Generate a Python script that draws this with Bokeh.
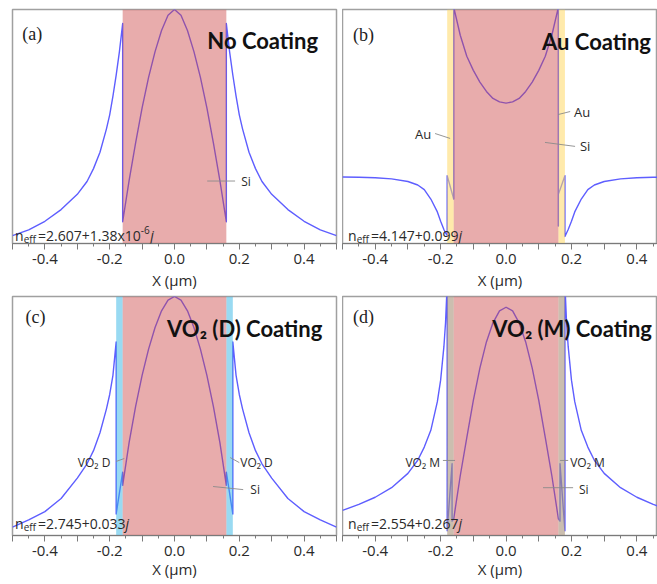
from bokeh.plotting import figure
from bokeh.models import Range1d, FixedTicker, CustomJSTickFormatter, Label
from bokeh.layouts import column, row
from bokeh.embed import file_html
from bokeh.resources import INLINE

# ---------------- data ----------------
x_ticks = [-0.5, -0.4, -0.3, -0.2, -0.1, 0.0, 0.1, 0.2, 0.3, 0.4, 0.5]
x_minor = [-0.45, -0.35, -0.25, -0.15, -0.05, 0.05, 0.15, 0.25, 0.35, 0.45]
si_core = [-0.16, 0.16]
coat_left = [-0.18, -0.16]
coat_right = [0.16, 0.18]

# (a) No coating
xa = [-0.50, -0.45, -0.40, -0.35, -0.30, -0.27, -0.25, -0.23, -0.21, -0.20, -0.19, -0.18, -0.17, -0.16,
      -0.16, -0.14, -0.12, -0.10, -0.08, -0.06, -0.04, -0.02, 0.00, 0.02, 0.04, 0.06, 0.08, 0.10, 0.12, 0.14, 0.16,
      0.16, 0.17, 0.18, 0.19, 0.20, 0.21, 0.23, 0.25, 0.27, 0.30, 0.35, 0.40, 0.45, 0.50]
ya = [0.034, 0.058, 0.095, 0.145, 0.21, 0.265, 0.32, 0.39, 0.49, 0.55, 0.63, 0.72, 0.82, 0.94,
      0.093, 0.27, 0.43, 0.58, 0.71, 0.82, 0.91, 0.975, 1.0, 0.975, 0.91, 0.82, 0.71, 0.58, 0.43, 0.27, 0.093,
      0.94, 0.82, 0.72, 0.63, 0.55, 0.49, 0.39, 0.32, 0.265, 0.21, 0.145, 0.095, 0.058, 0.034]

# (b) Au coating
xb = [-0.50, -0.45, -0.40, -0.35, -0.30, -0.27, -0.25, -0.23, -0.21, -0.20, -0.19, -0.185, -0.18,
      -0.18, -0.16,
      -0.16, -0.14, -0.12, -0.10, -0.08, -0.06, -0.04, -0.02, 0.00, 0.02, 0.04, 0.06, 0.08, 0.10, 0.12, 0.14, 0.16,
      0.16, 0.16, 0.18, 0.18,
      0.185, 0.19, 0.20, 0.21, 0.23, 0.25, 0.27, 0.30, 0.35, 0.40, 0.45, 0.50]
yb = [0.284, 0.283, 0.281, 0.276, 0.265, 0.25, 0.23, 0.19, 0.135, 0.095, 0.06, 0.045, 0.035,
      0.29, 0.19,
      1.01, 0.89, 0.80, 0.74, 0.69, 0.65, 0.62, 0.605, 0.60, 0.605, 0.62, 0.65, 0.69, 0.74, 0.80, 0.89, 1.01,
      0.075, 0.21, 0.29, 0.03,
      0.045, 0.06, 0.095, 0.135, 0.19, 0.23, 0.25, 0.265, 0.276, 0.281, 0.283, 0.284]

# (c) VO2 (D) coating
xc = [-0.50, -0.45, -0.40, -0.35, -0.30, -0.27, -0.25, -0.23, -0.21, -0.20, -0.19, -0.18,
      -0.18, -0.16,
      -0.16, -0.14, -0.12, -0.10, -0.08, -0.06, -0.04, -0.02, 0.00, 0.02, 0.04, 0.06, 0.08, 0.10, 0.12, 0.14, 0.16,
      0.16, 0.18,
      0.18, 0.19, 0.20, 0.21, 0.23, 0.25, 0.27, 0.30, 0.35, 0.40, 0.45, 0.50]
yc = [0.035, 0.065, 0.10, 0.155, 0.24, 0.30, 0.355, 0.43, 0.53, 0.59, 0.67, 0.81,
      0.09, 0.265,
      0.21, 0.39, 0.54, 0.67, 0.78, 0.87, 0.94, 0.985, 1.0, 0.985, 0.94, 0.87, 0.78, 0.67, 0.54, 0.39, 0.21,
      0.265, 0.09,
      0.81, 0.67, 0.59, 0.53, 0.43, 0.355, 0.30, 0.24, 0.155, 0.10, 0.065, 0.035]

# (d) VO2 (M) coating
xd = [-0.50, -0.45, -0.40, -0.35, -0.30, -0.27, -0.25, -0.23, -0.21, -0.20, -0.19, -0.185, -0.18,
      -0.18, -0.165, -0.165,
      -0.16, -0.14, -0.12, -0.10, -0.08, -0.06, -0.04, -0.02, 0.00, 0.02, 0.04, 0.06, 0.08, 0.10, 0.12, 0.14, 0.16,
      0.165, 0.165, 0.18,
      0.18, 0.185, 0.19, 0.20, 0.21, 0.23, 0.25, 0.27, 0.30, 0.35, 0.40, 0.45, 0.50]
yd = [0.105, 0.13, 0.16, 0.20, 0.26, 0.315, 0.37, 0.44, 0.56, 0.65, 0.79, 0.89, 1.05,
      0.02, 0.30, 0.06,
      0.07, 0.25, 0.41, 0.565, 0.70, 0.81, 0.89, 0.94, 0.955, 0.94, 0.89, 0.81, 0.70, 0.565, 0.41, 0.25, 0.07,
      0.06, 0.30, 0.02,
      1.05, 0.89, 0.79, 0.65, 0.56, 0.44, 0.37, 0.315, 0.26, 0.20, 0.16, 0.13, 0.105]

titles = ["No Coating", "Au Coating", "VO\u2082 (D) Coating", "VO\u2082 (M) Coating"]
tags = ["(a)", "(b)", "(c)", "(d)"]
neff_main = ["=2.607+1.38x10", "=4.147+0.099", "=2.745+0.033", "=2.554+0.267"]
neff_sup = ["-6", None, None, None]

# ---------------- styles ----------------
Y_LO, Y_HI = 0.0, 1.0
LINE = "#5e5eff"
SI_FILL, SI_ALPHA = "#cc4747", 0.45
COATS = {"Au": ("#ffd966", 0.55), "VO2D": ("#33b5e5", 0.5), "VO2M": ("#a8937a", 0.6)}
FONT = "Open Sans"
TXT = "#2a2a2a"
LEADER = "#8a8a8a"

FMT = """
const v = Math.round(tick * 10);
if (v % 2 !== 0 || Math.abs(v) > 4) { return ""; }
return (v / 10).toFixed(1);
"""


def base_fig(width, height, x_end, mb_left, mb_right, mb_top, mb_bottom, label_standoff):
    p = figure(width=width, height=height, x_range=Range1d(-0.5, x_end), y_range=Range1d(Y_LO, Y_HI),
               output_backend="svg", toolbar_location=None, y_axis_location=None,
               min_border_left=mb_left, min_border_right=mb_right,
               min_border_top=mb_top, min_border_bottom=mb_bottom)
    p.grid.visible = False
    p.outline_line_color = "#a0a0a0"
    p.outline_line_width = 1.5
    p.background_fill_color = "white"
    p.border_fill_color = "white"
    ax = p.xaxis[0]
    ax.ticker = FixedTicker(ticks=x_ticks, minor_ticks=x_minor)
    ax.formatter = CustomJSTickFormatter(code=FMT)
    ax.axis_line_color = "#7a7a7a"
    ax.axis_line_width = 1.2
    ax.major_tick_line_color = "#7a7a7a"
    ax.minor_tick_line_color = "#7a7a7a"
    ax.major_tick_in = 0
    ax.major_tick_out = 6
    ax.minor_tick_in = 0
    ax.minor_tick_out = 3
    ax.major_label_text_font = FONT
    ax.major_label_text_font_size = "15px"
    ax.major_label_text_color = TXT
    ax.major_label_standoff = 4
    ax.axis_label = "X (\u03bcm)"
    ax.axis_label_text_font = FONT
    ax.axis_label_text_font_size = "15px"
    ax.axis_label_text_font_style = "normal"
    ax.axis_label_text_color = TXT
    ax.axis_label_standoff = label_standoff
    return p


def lab(p, x, y, text, size="12px", align="left", font=FONT, style="normal", color=TXT,
        xo=0, yo=0, baseline="middle"):
    p.add_layout(Label(x=x, y=y, text=text, text_font=font, text_font_size=size,
                       text_font_style=style, text_color=color, text_align=align,
                       text_baseline=baseline, x_offset=xo, y_offset=yo))


def panel(p, xs, ys, coat, i, neff_x, neff_y, title_x, title_y, tag_x, tag_y):
    p.line(xs, ys, line_color=LINE, line_width=1.4, line_join="round")
    if coat is not None:
        c, a = COATS[coat]
        p.quad(left=[coat_left[0], coat_right[0]], right=[coat_left[1], coat_right[1]],
               bottom=[Y_LO, Y_LO], top=[Y_HI, Y_HI], fill_color=c, fill_alpha=a, line_color=None)
    p.quad(left=[si_core[0]], right=[si_core[1]], bottom=[Y_LO], top=[Y_HI],
           fill_color=SI_FILL, fill_alpha=SI_ALPHA, line_color=None)
    # n_eff
    lab(p, neff_x, neff_y, "n", size="14px", baseline="alphabetic")
    lab(p, neff_x, neff_y, "eff", size="10px", baseline="alphabetic", xo=8.6, yo=-3)
    lab(p, neff_x, neff_y, neff_main[i], size="14px", baseline="alphabetic", xo=23)
    jx = 23 + (102.7 if neff_sup[i] else 87.5)
    if neff_sup[i]:
        lab(p, neff_x, neff_y, neff_sup[i], size="10px", baseline="alphabetic", xo=jx, yo=6)
        jx += 9.5
    lab(p, neff_x, neff_y, "j", size="14px", style="italic", baseline="alphabetic", xo=jx)
    # title and tag
    lab(p, title_x, title_y, titles[i], size="22px", align="right", font="Lato", style="bold",
        color="#111111", baseline="alphabetic")
    lab(p, tag_x, tag_y, tags[i], size="18px", font="Liberation Serif", color="#222222",
        baseline="alphabetic")


def leaders(p, segs):
    p.segment(x0=[s[0] for s in segs], y0=[s[1] for s in segs],
              x1=[s[2] for s in segs], y1=[s[3] for s in segs],
              line_color=LEADER, line_width=0.9)


# ---------------- panels ----------------
pa = base_fig(342, 292, 0.5, 12, 6, 9, 47, 3)
panel(pa, xa, ya, None, 0, -0.492, 0.034, 0.443, 0.869, -0.47, 0.894)
leaders(pa, [(0.101, 0.267, 0.187, 0.267)])
lab(pa, 0.206, 0.263, "Si")

pb = base_fig(315, 292, 0.463, 0, 0, 9, 47, 3)
panel(pb, xb, yb, "Au", 1, -0.483, 0.034, 0.443, 0.862, -0.468, 0.89)
leaders(pb, [(-0.217, 0.47, -0.171, 0.449), (0.159, 0.551, 0.196, 0.564), (0.119, 0.432, 0.211, 0.415)])
lab(pb, -0.229, 0.466, "Au", align="right", size="13px")
lab(pb, 0.208, 0.564, "Au", size="13px")
lab(pb, 0.226, 0.415, "Si", size="13px")

pc = base_fig(342, 292, 0.5, 12, 6, 4, 49, 0)
panel(pc, xc, yc, "VO2D", 2, -0.492, 0.05, 0.456, 0.866, -0.46, 0.916)
leaders(pc, [(-0.18, 0.31, -0.155, 0.322), (0.172, 0.326, 0.20, 0.305), (0.119, 0.205, 0.212, 0.192)])
lab(pc, -0.198, 0.305, "VO\u2082 D", align="right")
lab(pc, 0.203, 0.305, "VO\u2082 D")
lab(pc, 0.234, 0.192, "Si")

pd = base_fig(315, 292, 0.463, 0, 0, 4, 49, 0)
panel(pd, xd, yd, "VO2M", 3, -0.483, 0.05, 0.446, 0.866, -0.468, 0.916)
leaders(pd, [(-0.193, 0.314, -0.156, 0.314), (0.165, 0.314, 0.19, 0.314), (0.113, 0.20, 0.205, 0.20)])
lab(pd, -0.202, 0.305, "VO\u2082 M", align="right")
lab(pd, 0.196, 0.305, "VO\u2082 M")
lab(pd, 0.223, 0.192, "Si")

layout = column(row(pa, pb, spacing=0), row(pc, pd, spacing=0), spacing=0)
open("out.html", "w").write(file_html(layout, INLINE))
